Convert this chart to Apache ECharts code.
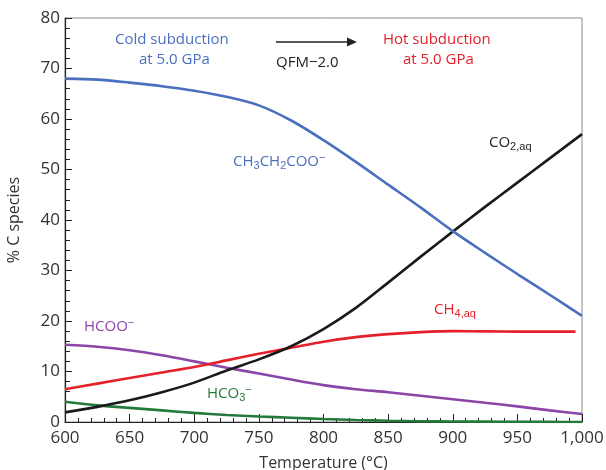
<!DOCTYPE html>
<html>
<head>
<meta charset="utf-8">
<script src="https://cdn.jsdelivr.net/npm/echarts@6/dist/echarts.min.js"></script>
<style>
  html, body { margin: 0; padding: 0; background: #fff; }
  #chart { width: 606px; height: 470px; }
</style>
</head>
<body>
<div id="chart"></div>
<script>
// temperatures (°C)
const temps = [600, 625, 650, 675, 700, 725, 750, 775, 800, 825, 850, 875, 900, 925, 950, 975, 1000];
const tempsCH4 = [600, 625, 650, 675, 700, 725, 750, 775, 800, 825, 850, 875, 900, 925, 950, 975, 995];

// % C species
const propionate = [68.0, 67.8, 67.2, 66.5, 65.6, 64.4, 62.7, 59.7, 55.8, 51.5, 47.0, 42.5, 37.8, 33.5, 29.3, 25.2, 21.0];
const co2 = [1.9, 3.0, 4.3, 5.9, 7.8, 10.2, 12.4, 15.0, 18.4, 22.6, 27.6, 32.7, 37.7, 42.6, 47.4, 52.2, 57.0];
const ch4 = [6.5, 7.6, 8.7, 9.8, 10.9, 12.2, 13.5, 14.7, 15.9, 16.8, 17.4, 17.8, 18.0, 17.95, 17.9, 17.9, 17.9];
const formate = [15.3, 14.9, 14.2, 13.2, 12.0, 10.75, 9.6, 8.4, 7.3, 6.5, 5.9, 5.2, 4.5, 3.8, 3.1, 2.3, 1.6];
const bicarbonate = [4.0, 3.3, 2.8, 2.3, 1.8, 1.4, 1.1, 0.85, 0.6, 0.4, 0.25, 0.15, 0.1, 0.07, 0.05, 0.02, 0.0];

const FONT = '"Open Sans", Lato, sans-serif';
const pair = (xs, ys) => xs.map((x, i) => [x, ys[i]]);

function line(name, xs, ys, color) {
  return {
    name, type: 'line', data: pair(xs, ys), smooth: 0.3, symbol: 'none',
    lineStyle: { color, width: 2.6 }, z: 3
  };
}

const chart = echarts.init(document.getElementById('chart'));

const sub = { fontSize: 11, padding: [9, 0, 0, 0] };
const sup = { fontSize: 11, padding: [0, 0, 8, 0] };

function label(x, y, text, color, rich) {
  return {
    type: 'text', left: x, top: y, z: 10,
    style: { text, fill: color, font: '15px ' + FONT, rich: rich || {} }
  };
}

chart.setOption({
  animation: false,
  grid: {
    left: 65, right: 24, top: 18, bottom: 48, outerBoundsMode: 'none',
    show: true, borderColor: '#8a8a8a', borderWidth: 1
  },
  xAxis: {
    type: 'value', min: 600, max: 1000, interval: 50,
    name: 'Temperature (°C)', nameLocation: 'middle', nameGap: 33,
    nameTextStyle: { fontFamily: FONT, fontSize: 16, color: '#333' },
    axisLine: { lineStyle: { color: '#222', width: 1.2 } },
    axisTick: { inside: true, length: 8, lineStyle: { color: '#222' } },
    minorTick: { show: true, splitNumber: 5, length: 4, lineStyle: { color: '#222' } },
    splitLine: { show: false },
    axisLabel: {
      fontFamily: FONT, fontSize: 17, color: '#333', margin: 8,
      formatter: v => v >= 1000 ? '1,000' : String(v)
    }
  },
  yAxis: {
    type: 'value', min: 0, max: 80, interval: 10,
    name: '% C species', nameLocation: 'middle', nameGap: 43,
    nameTextStyle: { fontFamily: FONT, fontSize: 16, color: '#333' },
    axisLine: { show: true, lineStyle: { color: '#222', width: 1.2 } },
    axisTick: { inside: true, length: 7, lineStyle: { color: '#222' } },
    minorTick: { show: true, splitNumber: 5, length: 5, lineStyle: { color: '#222' } },
    splitLine: { show: false },
    axisLabel: { fontFamily: FONT, fontSize: 17, color: '#333', margin: 5 }
  },
  series: [
    line('HCO3-', temps, bicarbonate, '#237a3a'),
    line('HCOO-', temps, formate, '#8b45a8'),
    line('CH4', tempsCH4, ch4, '#e5202b'),
    line('CO2', temps, co2, '#1a1a1a'),
    line('CH3CH2COO-', temps, propionate, '#4a6fbf')
  ],
  graphic: [
    { type: 'text', left: 115, top: 32, style: { text: 'Cold subduction', fill: '#4a6fbf', font: '15px ' + FONT } },
    { type: 'text', left: 139, top: 52, style: { text: 'at 5.0 GPa', fill: '#4a6fbf', font: '15px ' + FONT } },
    { type: 'text', left: 383, top: 32, style: { text: 'Hot subduction', fill: '#e5202b', font: '15px ' + FONT } },
    { type: 'text', left: 403, top: 52, style: { text: 'at 5.0 GPa', fill: '#e5202b', font: '15px ' + FONT } },
    { type: 'text', left: 276, top: 55, style: { text: 'QFM\u22122.0', fill: '#222', font: '15px ' + FONT } },
    { type: 'line', shape: { x1: 276, y1: 42, x2: 350, y2: 42 }, style: { stroke: '#222', lineWidth: 1.3 } },
    { type: 'polygon', shape: { points: [[357, 42], [347, 37.5], [347, 46.5]] }, style: { fill: '#222' } },
    label(233, 152, 'CH{sub|3}CH{sub|2}COO{sup|\u2212}', '#4a6fbf', { sub, sup }),
    label(489, 135, 'CO{sub|2,aq}', '#222', { sub }),
    label(434, 302, 'CH{sub|4,aq}', '#e5202b', { sub }),
    label(84, 317, 'HCOO{sup|\u2212}', '#8b45a8', { sup }),
    label(207, 384, 'HCO{sub|3}{sup|\u2212}', '#237a3a', { sub, sup })
  ]
});
</script>
</body>
</html>
